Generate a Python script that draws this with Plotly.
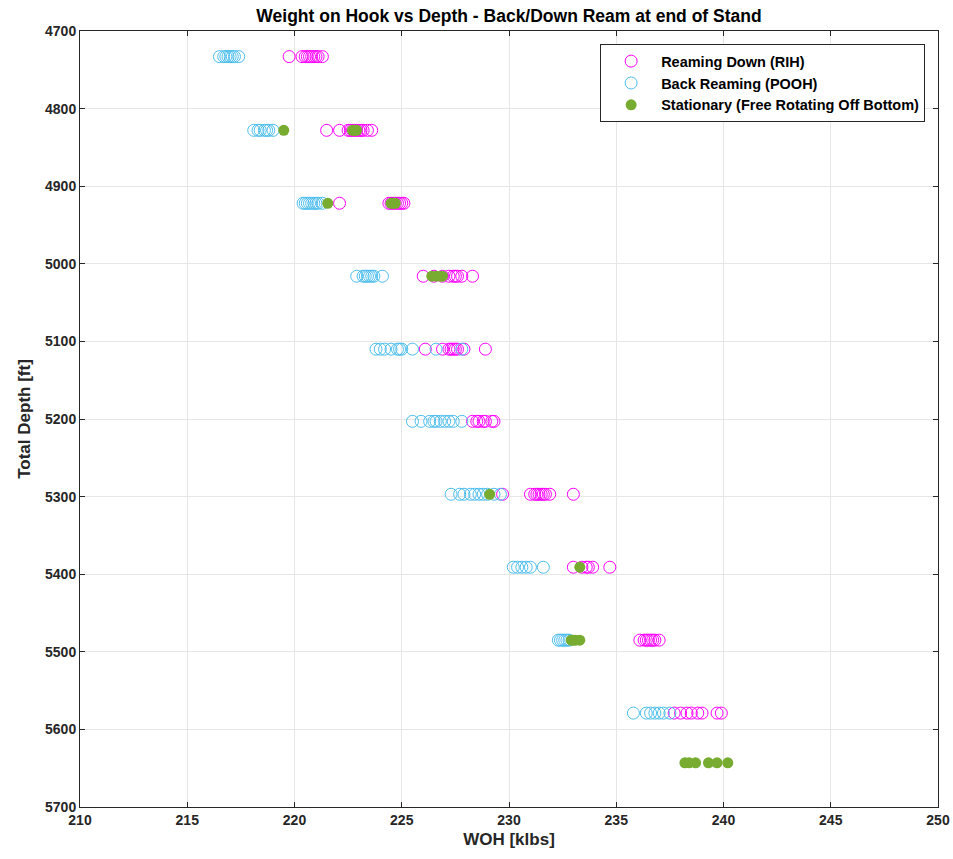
import plotly.graph_objects as go

# Stand depths [ft] for each reaming pass
depths = [4733, 4828, 4922, 5016, 5110, 5203, 5297, 5391, 5485, 5579]

# Weight on hook [klbs] while reaming down (RIH), one list per stand depth
rih_woh = [
    [219.75, 220.35, 220.5, 220.6, 220.7, 220.8, 220.9, 221.0, 221.1, 221.3],
    [221.5, 222.1, 222.5, 222.6, 222.7, 222.8, 222.9, 223.0, 223.1, 223.2, 223.4, 223.6],
    [222.1, 224.4, 224.5, 224.6, 224.7, 224.8, 224.9, 225.0, 225.1],
    [226.0, 226.5, 226.9, 227.2, 227.4, 227.5, 227.6, 227.8, 228.3],
    [226.1, 226.9, 227.2, 227.3, 227.4, 227.5, 227.6, 227.9, 228.9],
    [228.3, 228.5, 228.6, 228.8, 228.9, 229.2, 229.3],
    [229.7, 231.0, 231.2, 231.3, 231.4, 231.5, 231.6, 231.7, 231.9, 233.0],
    [233.0, 233.4, 233.6, 233.7, 233.9, 234.7],
    [236.1, 236.3, 236.4, 236.5, 236.6, 236.7, 236.8, 237.0],
    [237.7, 238.0, 238.3, 238.5, 238.8, 239.0, 239.7, 239.9],
]

# Weight on hook [klbs] while back reaming (POOH)
pooh_woh = [
    [216.5, 216.7, 216.8, 216.9, 217.0, 217.1, 217.2, 217.4],
    [218.1, 218.3, 218.4, 218.6, 218.7, 218.8, 219.0],
    [220.4, 220.5, 220.6, 220.7, 220.8, 220.9, 221.0, 221.1, 221.3],
    [222.9, 223.2, 223.3, 223.4, 223.5, 223.6, 223.7, 224.1],
    [223.8, 224.0, 224.2, 224.5, 224.8, 224.9, 225.0, 225.5, 226.6, 227.8],
    [225.5, 225.9, 226.3, 226.5, 226.6, 226.8, 227.0, 227.2, 227.4, 227.8],
    [227.3, 227.7, 227.9, 228.2, 228.4, 228.6, 228.8, 229.0, 229.3, 229.6],
    [230.2, 230.4, 230.6, 230.8, 231.0, 231.6],
    [232.3, 232.4, 232.5, 232.6, 232.7, 232.8],
    [235.8, 236.4, 236.6, 236.8, 237.0, 237.2, 237.5],
]

# Free rotating off bottom readings
stat_depth = [4828, 4828, 4828, 4828, 4922, 4922, 4922, 4922,
              5016, 5016, 5016, 5016, 5297, 5391,
              5485, 5485, 5485, 5485,
              5643, 5643, 5643, 5643, 5643, 5643]
stat_woh = [219.5, 222.7, 222.8, 222.9, 221.55, 224.5, 224.6, 224.7,
            226.4, 226.6, 226.8, 226.9, 229.1, 233.3,
            232.9, 233.0, 233.1, 233.3,
            238.2, 238.4, 238.7, 239.3, 239.7, 240.2]

x_ticks = list(range(210, 251, 5))
y_ticks = list(range(4700, 5701, 100))


def flatten(rows):
    xs, ys = [], []
    for d, row in zip(depths, rows):
        xs.extend(row)
        ys.extend([d] * len(row))
    return xs, ys


rih_x, rih_y = flatten(rih_woh)
pooh_x, pooh_y = flatten(pooh_woh)

MAGENTA = "#FF00FF"
CYAN = "#4DBEEE"
GREEN = "#77AC30"

fig = go.Figure()
fig.add_trace(go.Scatter(
    x=rih_x, y=rih_y, mode="markers", name="Reaming Down (RIH)",
    marker=dict(symbol="circle-open", size=12, color=MAGENTA, line=dict(width=1)),
))
fig.add_trace(go.Scatter(
    x=pooh_x, y=pooh_y, mode="markers", name="Back Reaming (POOH)",
    marker=dict(symbol="circle-open", size=12, color=CYAN, line=dict(width=1)),
))
fig.add_trace(go.Scatter(
    x=stat_woh, y=stat_depth, mode="markers", name="Stationary (Free Rotating Off Bottom)",
    marker=dict(symbol="circle", size=11, color=GREEN),
))

font_family = "Liberation Sans, Arial, sans-serif"
axis_common = dict(
    showgrid=True, gridcolor="#E6E6E6", gridwidth=1,
    showline=True, linecolor="#262626", linewidth=1, mirror="ticks",
    ticks="inside", ticklen=5, tickcolor="#262626",
    zeroline=False, automargin=False,
    tickfont=dict(family=font_family, size=14, color="#262626", weight="bold"),
)

fig.update_layout(
    width=953, height=859,
    margin=dict(l=80, r=15, t=31, b=52),
    paper_bgcolor="white", plot_bgcolor="white",
    title=dict(
        text="Weight on Hook vs Depth - Back/Down Ream at end of Stand",
        x=0.5, xref="paper", xanchor="center", y=0.982, yanchor="middle",
        font=dict(family=font_family, size=17.5, color="black", weight="bold"),
    ),
    xaxis=dict(
        range=[210, 250], tickvals=x_ticks,
        title=dict(text="WOH [klbs]", standoff=6,
                   font=dict(family=font_family, size=17, color="#262626", weight="bold")),
        **axis_common,
    ),
    yaxis=dict(
        range=[5700, 4700], tickvals=y_ticks,
        title=dict(text="Total Depth [ft]", standoff=10,
                   font=dict(family=font_family, size=17, color="#262626", weight="bold")),
        **axis_common,
    ),
    legend=dict(
        x=0.985, xanchor="right", y=0.983, yanchor="top",
        bgcolor="white", bordercolor="#262626", borderwidth=1,
        font=dict(family=font_family, size=14.5, color="black", weight="bold"),
        itemwidth=50,
        tracegroupgap=0,
    ),
    showlegend=True,
)

fig.write_html("out.html")
